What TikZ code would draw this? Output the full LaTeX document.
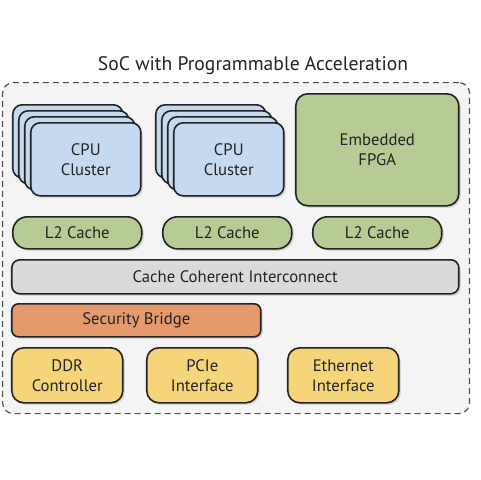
\documentclass[tikz,border=0pt]{standalone}
\usepackage{fontspec}
\setmainfont{PT Sans}
\usetikzlibrary{shadows}
\definecolor{cpublue}{RGB}{197,218,240}
\definecolor{fpgagreen}{RGB}{183,203,149}
\definecolor{busgrey}{RGB}{218,218,218}
\definecolor{secorange}{RGB}{228,154,108}
\definecolor{ioyellow}{RGB}{246,213,122}
\definecolor{socback}{RGB}{244,244,244}
\definecolor{inkdark}{RGB}{35,35,35}
\tikzstyle{block}=[rectangle, draw=inkdark, line width=1.2pt, text=inkdark, align=center, anchor=north west, inner sep=0pt, font=\fontsize{12.5}{15}\selectfont, drop shadow={opacity=0.25, shadow xshift=1.5pt, shadow yshift=-1.5pt}]
\tikzstyle{cpu}=[block, fill=cpublue, rounded corners=7pt, minimum width=82.5pt, minimum height=54.75pt]
\tikzstyle{fpga}=[block, fill=fpgagreen, rounded corners=9pt, minimum width=122.25pt, minimum height=84pt]
\tikzstyle{cache}=[block, fill=fpgagreen, rounded corners=11pt, minimum width=96.75pt, minimum height=24pt]
\tikzstyle{bus}=[block, fill=busgrey, rounded corners=6pt, minimum width=335.25pt, minimum height=25.5pt]
\tikzstyle{bridge}=[block, fill=secorange, rounded corners=5pt, minimum width=186.75pt, minimum height=24.75pt]
\tikzstyle{io}=[block, fill=ioyellow, rounded corners=9pt, minimum width=83.25pt, minimum height=41.25pt]
\tikzstyle{soc}=[rectangle, draw=inkdark!80, line width=0.9pt, dash pattern=on 4.5pt off 3pt, fill=socback, rounded corners=8pt, anchor=north west, minimum width=350.25pt, minimum height=248.25pt]
\begin{document}
\begin{tikzpicture}[x=0.75pt,y=-0.75pt]
  \useasboundingbox (0,0) rectangle (480,480);
  \node[font=\fontsize{14.7}{17}\selectfont, text=inkdark] (title) at (253,66) {SoC with Programmable Acceleration};
  \node[soc] (chip) at (2,82) {};
  % cpu cluster stacks
  \foreach \i/\dx in {1/0,2/6,3/12}{
    \node[cpu] (cpuA\i) at (12+\dx,104+\dx) {};
    \node[cpu] (cpuB\i) at (155+\dx,104+\dx) {};
  }
  \node[cpu] (cpuA) at (30,122) {CPU\\Cluster};
  \node[cpu] (cpuB) at (173,122) {CPU\\Cluster};
  \node[fpga] (fpga) at (295,93) {Embedded\\FPGA};
  \node[cache] (l2a) at (12,216) {L2 Cache};
  \node[cache] (l2b) at (162,216) {L2 Cache};
  \node[cache] (l2c) at (312,216) {L2 Cache};
  \node[bus] (cci) at (11,259) {Cache Coherent Interconnect};
  \node[bridge] (secbridge) at (11,303) {Security Bridge};
  \node[io] (ddr) at (11,347) {DDR\\Controller};
  \node[io] (pcie) at (146,347) {PCIe\\Interface};
  \node[io] (eth) at (287,347) {Ethernet\\Interface};
\end{tikzpicture}
\end{document}
